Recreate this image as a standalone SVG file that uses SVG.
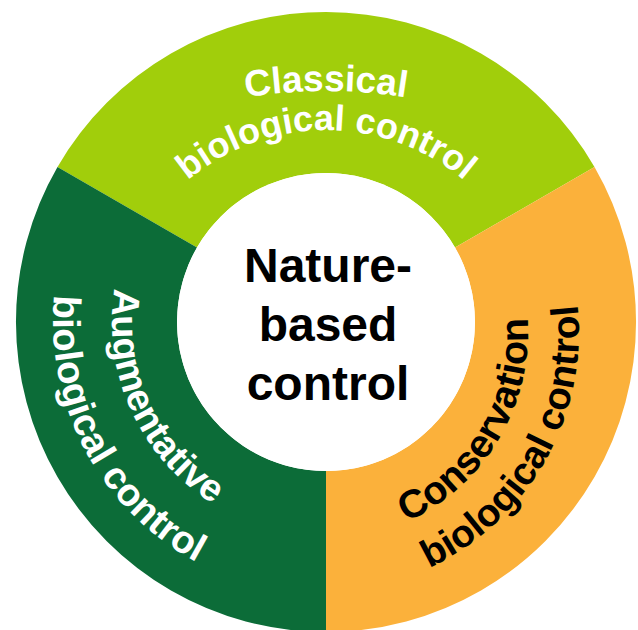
<svg xmlns="http://www.w3.org/2000/svg" xmlns:xlink="http://www.w3.org/1999/xlink" width="638" height="630" viewBox="0 0 638 630">
<style>
.lbl{font-family:"Liberation Sans",Arial,sans-serif;font-weight:bold;font-size:36px}
.ctr{font-family:"Liberation Sans",Arial,sans-serif;font-weight:bold;font-size:48px;fill:#000;text-anchor:middle}
.w{fill:#fff}
.k{fill:#000}
</style>
<defs>
<path id="pClassical" d="M 106 142 A 500 500 0 0 1 546 142"/>
<path id="pClassical2" d="M 124 271.5 A 215 215 0 0 1 528 271.5"/>
<path id="pAug1" d="M 151.6 198.0 A 214 214 0 0 0 305.9 535.1"/>
<path id="pAug2" d="M 94.5 177.3 A 273 273 0 0 0 316.5 594.8"/>
<path id="pCons1" d="M 317.8 541.0 A 208 208 0 0 0 501.2 230.9"/>
<path id="pCons2" d="M 322.7 592.0 A 259 259 0 0 0 542.9 201.2"/>
</defs>
<rect width="638" height="630" fill="#fff"/>
<g id="classical">
<path d="M 57.5 167 A 310 310 0 0 1 594.5 167 L 455 247.5 A 149 149 0 0 0 197 247.5 Z" fill="#A1CE0B"/>
<text class="lbl w" style="font-size:37px"><textPath xlink:href="#pClassical" href="#pClassical" startOffset="50%" text-anchor="middle">Classical</textPath></text>
<text class="lbl w"><textPath xlink:href="#pClassical2" href="#pClassical2" startOffset="50%" text-anchor="middle">biological control</textPath></text>
</g>
<g id="conservation">
<path d="M 594.5 167 A 310 310 0 0 1 326 632 L 326 471 A 149 149 0 0 0 455 247.5 Z" fill="#FBB13B"/>
<text class="lbl k" style="font-size:39.5px"><textPath xlink:href="#pCons1" href="#pCons1" startOffset="50%" text-anchor="middle">Conservation</textPath></text>
<text class="lbl k" style="font-size:38.7px"><textPath xlink:href="#pCons2" href="#pCons2" startOffset="50%" text-anchor="middle">biological control</textPath></text>
</g>
<g id="augmentative">
<path d="M 326 632 A 310 310 0 0 1 57.5 167 L 197 247.5 A 149 149 0 0 0 326 471 Z" fill="#0C6C38"/>
<text class="lbl w" style="font-size:38px"><textPath xlink:href="#pAug1" href="#pAug1" startOffset="50%" text-anchor="middle">Augmentative</textPath></text>
<text class="lbl w" style="font-size:38.5px"><textPath xlink:href="#pAug2" href="#pAug2" startOffset="50%" text-anchor="middle">biological control</textPath></text>
</g>
<g id="center">
<circle cx="326" cy="322" r="149" fill="#fff"/>
<text class="ctr" x="328" y="282">Nature-</text>
<text class="ctr" x="328" y="341">based</text>
<text class="ctr" x="328" y="400">control</text>
</g>
<g id="connectors"></g>
</svg>
